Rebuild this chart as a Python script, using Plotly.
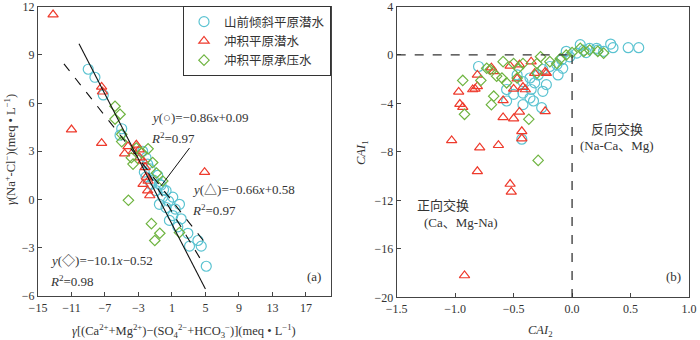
import plotly.graph_objects as go

# ---- left panel (a) data ----
a_circle_x = [-9.0, -8.2, -7.2, -5.0, -5.2, -2.5, -2.1, -1.9, -2.3, -2.1, -1.5, -0.9, -0.5, -0.1, 0.3,
              1.1, 1.9, 0.3, -0.5, 1.1, 0.7, 2.1, 1.7, 2.9, 3.1, 4.1, 4.5, 5.1, -1.2, -0.7, 0.0, 0.6, 1.4, -1.6, -0.3]
a_circle_y = [8.1, 7.6, 6.5, 4.4, 4.0, 3.0, 2.6, 2.2, 1.7, 1.4, 0.95, 0.55, 0.95, 0.15, 0.55,
              0.15, -0.3, -0.5, -0.3, -1.0, -1.3, -1.2, -1.7, -2.1, -2.9, -2.55, -2.9, -4.15, 1.2, 1.5, 0.6, -0.1, -0.6, 1.9, 0.9]
a_tri_x = [-13.2, -11.0, -7.4, -7.4, -7.3, -4.65, -4.25, -3.25, -2.9, -2.85, -2.45, -2.45, -1.9, -1.65, -2.05, -1.85, 4.9, -3.6, -2.2]
a_tri_y = [11.5, 4.35, 3.5, 7.0, 6.7, 2.85, 3.3, 3.4, 3.1, 2.6, 2.4, 0.95, 0.55, 0.25, 1.4, 1.15, 1.7, 3.0, 2.0]
a_dia_x = [-5.8, -5.8, -5.2, -5.0, -5.0, -3.85, -3.25, -1.85, -3.65, -4.2, -1.45, -0.45, -1.05, 1.9, -0.85, -0.1, -2.6, -1.3]
a_dia_y = [5.8, 5.0, 5.3, 4.05, 3.6, 2.6, 3.2, 3.15, 2.2, -0.05, -1.5, -2.1, -2.55, -2.05, 1.65, 1.15, 2.9, 2.3]

# regression lines: slope, intercept, x-range
fit_slope = [-0.86, -0.66, -1.01]
fit_icpt = [0.09, 0.58, -0.52]
fit_xmin = [-1.8, -11.9, -10.1]
fit_xmax = [4.6, 4.9, 5.0]
fit_dash = ["dash", "dash", "solid"]

# ---- right panel (b) data ----
b_circle_x = [-0.80, -0.43, -0.56, -0.50, -0.42, -0.35, -0.25, -0.26, -0.33, -0.56, -0.47, -0.42, -0.36,
              -0.32, -0.29, -0.25, -0.19, -0.13, -0.09, -0.02, 0.04, 0.10, 0.15, 0.21, 0.27, 0.33, 0.35,
              0.48, 0.57, 0.07, -0.08, -0.12, -0.22, -0.42, -0.36, -0.05, 0.12, 0.22]
b_circle_y = [-0.95, -6.95, -2.85, -3.25, -3.15, -2.85, -3.0, -4.35, -3.8, -3.8, -1.65, -2.2, -1.9,
              -2.3, -1.65, -1.2, -0.95, -0.8, -0.4, -0.15, 0.15, 0.4, 0.55, 0.55, 0.3, 0.9, 0.6,
              0.6, 0.6, 0.85, -1.1, -1.65, -2.45, -4.1, -3.55, 0.3, 0.2, 0.4]
b_tri_x = [-0.97, -0.96, -0.935, -1.03, -0.79, -0.63, -0.81, -0.85, -0.83, -0.81, -0.59, -0.50, -0.45,
           -0.59, -0.43, -0.43, -0.23, -0.69, -0.67, -0.53, -0.45, -0.35, -0.32, -0.23, -0.22, -0.47,
           -0.42, -0.40, -0.50, -0.81, -0.53, -0.52, -0.92]
b_tri_y = [-3.05, -4.05, -4.3, -7.05, -7.65, -7.45, -1.65, -2.85, -2.8, -2.6, -5.15, -5.25, -4.7,
           -3.75, -6.3, -6.9, -4.65, -1.05, -1.35, -0.9, -0.8, -0.55, -1.5, -1.4, -1.5, -1.95,
           -2.65, -2.85, -2.8, -9.6, -10.65, -11.3, -18.2]
b_dia_x = [-0.935, -0.78, -0.67, -0.69, -0.92, -0.37, -0.29, -0.70, -0.645, -0.59, -0.50, -0.42,
           -0.46, -0.56, -0.47, -0.27, -0.30, -0.19, -0.13, -0.10, -0.05, 0.07, 0.15, 0.22, 0.27,
           -0.30, -0.73, -0.60, 0.00, 0.10]
b_dia_y = [-2.1, -2.1, -3.4, -4.1, -4.9, -5.3, -8.7, -1.2, -1.75, -0.55, -0.7, -0.7,
           -1.1, -2.3, -1.9, -0.15, -0.7, -0.55, -0.7, -0.3, 0.0, 0.55, 0.4, 0.3, 0.15,
           -1.5, -1.1, -1.9, 0.2, 0.3]

names = ["山前倾斜平原潜水", "冲积平原潜水", "冲积平原承压水"]
colors = ["#5bc3d1", "#ee3a2c", "#6fb441"]
symbols = ["circle-open", "triangle-up-open", "diamond-open"]
sizes = [10, 9, 8]

SERIF = "Liberation Serif, Noto Sans CJK SC"
TXT = "#333333"

fig = go.Figure()

a_sets = [(a_circle_x, a_circle_y), (a_tri_x, a_tri_y), (a_dia_x, a_dia_y)]
b_sets = [(b_circle_x, b_circle_y), (b_tri_x, b_tri_y), (b_dia_x, b_dia_y)]

for i in range(3):
    fig.add_trace(go.Scatter(x=a_sets[i][0], y=a_sets[i][1], mode="markers", name=names[i],
                             marker=dict(symbol=symbols[i], size=sizes[i], color=colors[i], line=dict(width=1.2)),
                             xaxis="x", yaxis="y"))
for i in range(3):
    fig.add_trace(go.Scatter(x=b_sets[i][0], y=b_sets[i][1], mode="markers", showlegend=False,
                             marker=dict(symbol=symbols[i], size=sizes[i], color=colors[i], line=dict(width=1.2)),
                             xaxis="x2", yaxis="y2"))

for i in range(3):
    xs = [fit_xmin[i], fit_xmax[i]]
    ys = [fit_slope[i] * v + fit_icpt[i] for v in xs]
    fig.add_trace(go.Scatter(x=xs, y=ys, mode="lines", showlegend=False,
                             line=dict(color="#111111", width=1.1, dash=fit_dash[i]),
                             xaxis="x", yaxis="y"))

# pointer line from the circle equation
fig.add_shape(type="line", xref="x", yref="y", x0=3.1, y0=3.2, x1=-0.3, y1=0.85,
              line=dict(color="#111111", width=1))

# exchange divider lines in (b)
fig.add_shape(type="line", xref="x2", yref="y2", x0=-1.5, y0=0, x1=0, y1=0,
              line=dict(color="#333333", width=1.3, dash="dash"))
fig.add_shape(type="line", xref="x2", yref="y2", x0=0, y0=0, x1=0, y1=-20,
              line=dict(color="#333333", width=1.3, dash="dash"))

ann = [
    dict(x=-1.7, y=5.12, xref="x", yref="y", text="<i>y</i>(○)=−0.86<i>x</i>+0.09", xanchor="left"),
    dict(x=-1.7, y=3.84, xref="x", yref="y", text="<i>R</i><sup>2</sup>=0.97", xanchor="left"),
    dict(x=3.1, y=0.65, xref="x", yref="y", text="<i>y</i>(△)=−0.66<i>x</i>+0.58", xanchor="left"),
    dict(x=3.1, y=-0.65, xref="x", yref="y", text="<i>R</i><sup>2</sup>=0.97", xanchor="left"),
    dict(x=-13.8, y=-3.8, xref="x", yref="y", text="<i>y</i>(◇)=−10.1<i>x</i>−0.52", xanchor="left"),
    dict(x=-13.8, y=-5.07, xref="x", yref="y", text="<i>R</i><sup>2</sup>=0.98", xanchor="left"),
    dict(x=18.0, y=-4.8, xref="x", yref="y", text="(a)", xanchor="center"),
    dict(x=0.38, y=-6.15, xref="x2", yref="y2", text="反向交换", xanchor="center"),
    dict(x=0.38, y=-7.45, xref="x2", yref="y2", text="(Na-Ca、Mg)", xanchor="center"),
    dict(x=-1.345, y=-12.45, xref="x2", yref="y2", text="正向交换", xanchor="left"),
    dict(x=-1.28, y=-13.8, xref="x2", yref="y2", text="(Ca、Mg-Na)", xanchor="left"),
    dict(x=0.866, y=-18.3, xref="x2", yref="y2", text="(b)", xanchor="center"),
]
for a in ann:
    a.update(showarrow=False, yanchor="middle", font=dict(family=SERIF, size=13, color=TXT))
    fig.add_annotation(**a)

# axis titles
titles = [
    dict(x=184 / 700, y=1 - 331 / 340, xanchor="center",
         text="<i>γ</i>[(Ca<sup>2+</sup>+Mg<sup>2+</sup>)−(SO<sub>4</sub><sup>2−</sup>+HCO<sub>3</sub><sup>−</sup>)](meq • L<sup>−1</sup>)"),
    dict(x=10 / 700, y=1 - 150 / 340, textangle=-90, xanchor="center",
         text="<i>γ</i>(Na<sup>+</sup>-Cl<sup>−</sup>)(meq • L<sup>−1</sup>)"),
    dict(x=540 / 700, y=1 - 331 / 340, xanchor="center", text="<i>CAI</i><sub>2</sub>"),
    dict(x=362 / 700, y=1 - 153 / 340, textangle=-90, xanchor="center", text="<i>CAI</i><sub>1</sub>"),
]
for t in titles:
    t.update(xref="paper", yref="paper", showarrow=False, yanchor="middle",
             font=dict(family=SERIF, size=12.5, color=TXT))
    fig.add_annotation(**t)

axis_style = dict(showgrid=False, zeroline=False, showline=True, mirror=True, linecolor="#444444",
                  linewidth=1.2, ticks="inside", ticklen=4, tickcolor="#444444",
                  ticklabeloverflow="allow", automargin=False,
                  tickfont=dict(family=SERIF, size=12, color=TXT))

fig.update_layout(
    width=700, height=340,
    margin=dict(l=0, r=0, t=0, b=0),
    paper_bgcolor="white", plot_bgcolor="white",
    xaxis=dict(domain=[38 / 700, 331 / 700], range=[-15, 20], tick0=-15, dtick=4, anchor="y", **axis_style),
    yaxis=dict(domain=[44 / 340, 333.5 / 340], range=[-6, 12], dtick=3, anchor="x", **axis_style),
    xaxis2=dict(domain=[396.7 / 700, 689 / 700], range=[-1.5, 1.0], dtick=0.5, tickformat=".1f", anchor="y2", **axis_style),
    yaxis2=dict(domain=[42.7 / 340, 333.5 / 340], range=[-20, 4], dtick=4, anchor="x2", **axis_style),
    legend=dict(x=331 / 700, y=1 - 6 / 340, xanchor="right", yanchor="top",
                bgcolor="white", bordercolor="#333333", borderwidth=1,
                font=dict(family=SERIF, size=12.5, color=TXT), itemwidth=30, tracegroupgap=0),
    showlegend=True,
)

# page body has a default margin; drop it so the figure sits at the window corner
fig.write_html("out.html", config={"displayModeBar": False},
               post_script="document.body.style.margin='0px';")
